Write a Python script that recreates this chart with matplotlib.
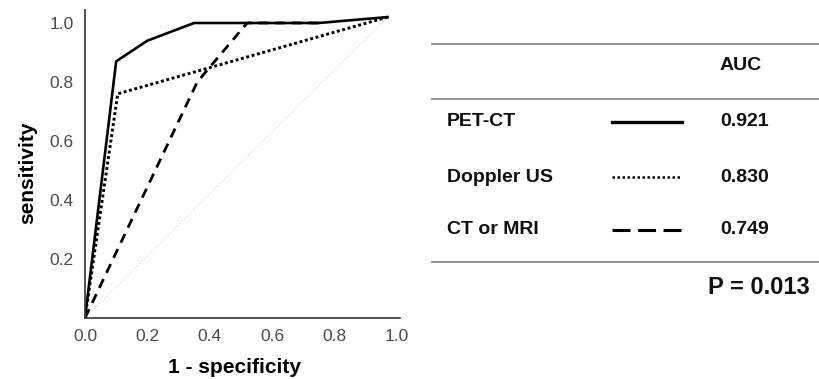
import matplotlib
matplotlib.use("Agg")
import matplotlib.pyplot as plt

plt.rcParams['font.family'] = ['Liberation Sans', 'DejaVu Sans']

# ROC curves
fpr_pet = [0.0, 0.10, 0.20, 0.35, 0.75, 0.97]
sens_pet = [0.0, 0.87, 0.94, 1.00, 1.00, 1.02]
fpr_us = [0.0, 0.105, 0.97]
sens_us = [0.0, 0.76, 1.02]
fpr_ct = [0.0, 0.36, 0.52, 0.75]
sens_ct = [0.0, 0.80, 1.00, 1.00]
ref_x = [0.0, 0.97]
ref_y = [0.0, 1.02]

ticks = [0.0, 0.2, 0.4, 0.6, 0.8, 1.0]
yticks = [0.2, 0.4, 0.6, 0.8, 1.0]

modalities = ['PET-CT', 'Doppler US', 'CT or MRI']
auc = ['0.921', '0.830', '0.749']
p_value = 'P = 0.013'

W, H = 819, 379
fig = plt.figure(figsize=(W / 100, H / 100), dpi=100)

ax = fig.add_axes([85 / W, (H - 318) / H, (400 - 85) / W, (318 - 10) / H])
ax.set_xlim(0, 1.01)
ax.set_ylim(0, 1.044)
ax.plot(ref_x, ref_y, color='#cccccc', lw=0.8, linestyle=(0, (1, 2)))
ax.plot(fpr_ct, sens_ct, color='black', lw=2, linestyle=(0, (3.5, 2.5)))
ax.plot(fpr_us, sens_us, color='black', lw=2.1, linestyle=(0, (1, 0.9)))
ax.plot(fpr_pet, sens_pet, color='black', lw=1.9)
for s in ['top', 'right']:
    ax.spines[s].set_visible(False)
for s in ['left', 'bottom']:
    ax.spines[s].set_linewidth(1.2)
    ax.spines[s].set_color('#333333')
ax.set_xticks(ticks)
ax.set_xticklabels(['%.1f' % t for t in ticks])
ax.set_yticks(yticks)
ax.set_yticklabels(['%.1f' % t for t in yticks])
ax.tick_params(length=0, pad=8, labelsize=12.5, labelcolor='#4a4a4a')
ax.set_xlabel('1 - specificity', fontsize=15, fontweight='bold')
ax.set_ylabel('sensitivity', fontsize=15, fontweight='bold')
ax.xaxis.set_label_coords(0.476, -0.13)
ax.yaxis.set_label_coords(-0.15, 0.47)

# table on the right, drawn in pixel coordinates
tb = fig.add_axes([0, 0, 1, 1])
tb.set_xlim(0, W)
tb.set_ylim(H, 0)
tb.axis('off')
for y in [44, 99, 262]:
    tb.plot([432, W], [y, y], color='#888888', lw=1.3)

txt = dict(fontsize=14, fontweight='bold', va='center', color='#111111')
tb.text(720, 65, 'AUC', **txt)
row_y = [122, 177, 230]
styles = ['-', (0, (1, 1)), (0, (5.9, 2.45))]
widths = [2.4, 1.8, 2.2]
for name, val, y, ls, lw in zip(modalities, auc, row_y, styles, widths):
    tb.text(447, y, name, **txt)
    tb.text(720, y, val, **txt)
    tb.plot([612, 682], [y, y], color='black', lw=lw, linestyle=ls)
tb.text(708, 287, p_value, fontsize=17, fontweight='bold', va='center', color='#111111')

fig.savefig('out.png', dpi=100)
